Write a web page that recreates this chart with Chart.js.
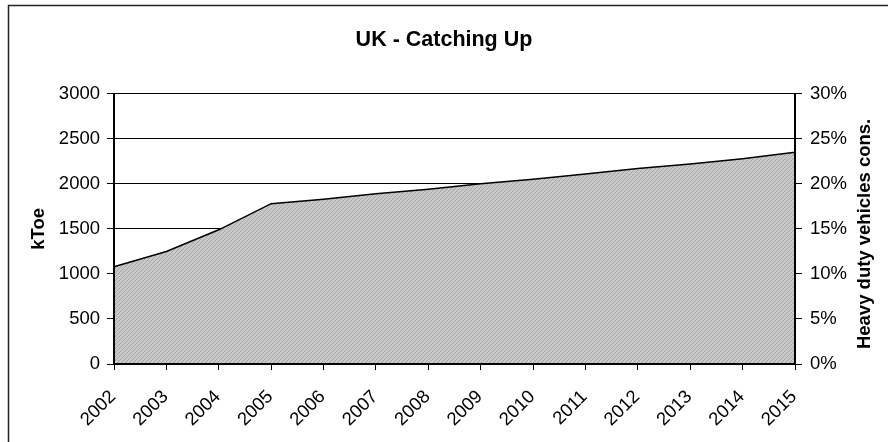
<!DOCTYPE html>
<html>
<head>
<meta charset="utf-8">
<title>UK - Catching Up</title>
<script src="https://cdn.jsdelivr.net/npm/chart.js@4.4.1/dist/chart.umd.min.js"></script>
<style>
  html, body { margin: 0; padding: 0; background: #fff; }
  #wrap { width: 888px; height: 442px; position: relative; }
</style>
</head>
<body>
<div id="wrap"><canvas id="chart" width="888" height="442"></canvas></div>
<script>
// Heavy duty vehicle fuel consumption, UK (kToe)
const years = ['2002', '2003', '2004', '2005', '2006', '2007', '2008',
               '2009', '2010', '2011', '2012', '2013', '2014', '2015'];
const consumption = [1080, 1250, 1490, 1780, 1830, 1890, 1940,
                     2000, 2050, 2110, 2170, 2220, 2280, 2350];
const ktoeTickLabels = ['0', '500', '1000', '1500', '2000', '2500', '3000'];
const shareTickLabels = ['0%', '5%', '10%', '15%', '20%', '25%', '30%'];

const FONT = "'Liberation Sans', Arial, sans-serif";
const TICK_SIZE = 18.5;

// fine diagonal hatch used for the area fill
function hatchPattern() {
  const c = document.createElement('canvas');
  c.width = 4; c.height = 4;
  const g = c.getContext('2d');
  g.fillStyle = '#c9c9c9';
  g.fillRect(0, 0, 4, 4);
  g.fillStyle = '#a6a6a6';
  for (let i = 0; i < 4; i++) g.fillRect(i, 3 - i, 1, 1);
  return g.createPattern(c, 'repeat');
}

// outer frame and the right-hand axis title (reads bottom to top)
const decorations = {
  id: 'decorations',
  afterDraw(chart) {
    const ctx = chart.ctx;
    ctx.save();
    ctx.strokeStyle = '#222';
    ctx.lineWidth = 1.5;
    ctx.strokeRect(8.5, 5.5, 900, 450);
    const area = chart.chartArea;
    ctx.translate(865, (area.top + area.bottom) / 2 + 5);
    ctx.rotate(-Math.PI / 2);
    ctx.fillStyle = '#000';
    ctx.font = 'bold 18.5px ' + FONT;
    ctx.textAlign = 'center';
    ctx.textBaseline = 'middle';
    ctx.fillText('Heavy duty vehicles cons.', 0, 0);
    ctx.restore();
  }
};

new Chart(document.getElementById('chart'), {
  type: 'line',
  data: {
    labels: years,
    datasets: [{
      data: consumption,
      yAxisID: 'y',
      borderColor: '#000',
      borderWidth: 1.5,
      backgroundColor: hatchPattern(),
      fill: 'origin',
      tension: 0,
      pointRadius: 0,
      pointHoverRadius: 0
    }]
  },
  options: {
    responsive: false,
    animation: false,
    devicePixelRatio: 1,
    layout: { padding: 0 },
    plugins: {
      legend: { display: false },
      tooltip: { enabled: false },
      title: {
        display: true,
        text: 'UK - Catching Up',
        color: '#000',
        font: { family: FONT, size: 21.5, weight: 'bold' },
        padding: { top: 27, bottom: 41 }
      }
    },
    scales: {
      x: {
        type: 'category',
        offset: false,
        grid: { drawOnChartArea: false, drawTicks: true, tickLength: 6, color: '#000', lineWidth: 1 },
        border: { display: true, color: '#000', width: 2, z: 1 },
        ticks: {
          color: '#000',
          font: { family: FONT, size: TICK_SIZE },
          minRotation: 45,
          maxRotation: 45,
          autoSkip: false,
          padding: 16,
          labelOffset: -1
        },
        afterFit(scale) { scale.height = 78; }
      },
      y: {
        position: 'left',
        min: 0,
        max: 3000,
        grid: { color: '#000', lineWidth: 1, drawTicks: true, tickLength: 7 },
        border: { display: true, color: '#000', width: 2, z: 1 },
        ticks: {
          stepSize: 500,
          color: '#000',
          font: { family: FONT, size: TICK_SIZE },
          padding: 7,
          callback: (v, i) => ktoeTickLabels[i]
        },
        title: {
          display: true,
          text: 'kToe',
          color: '#000',
          font: { family: FONT, size: 18.5, weight: 'bold' },
          padding: { top: 28, bottom: 0 }
        },
        afterFit(scale) { scale.width = 114; }
      },
      y2: {
        position: 'right',
        min: 0,
        max: 30,
        grid: { drawOnChartArea: false, drawTicks: true, tickLength: 7, color: '#000', lineWidth: 1 },
        border: { display: true, color: '#000', width: 2, z: 1 },
        ticks: {
          stepSize: 5,
          color: '#000',
          font: { family: FONT, size: TICK_SIZE },
          padding: 8,
          callback: (v, i) => shareTickLabels[i]
        },
        afterFit(scale) { scale.width = 93; }
      }
    }
  },
  plugins: [decorations]
});
</script>
</body>
</html>
